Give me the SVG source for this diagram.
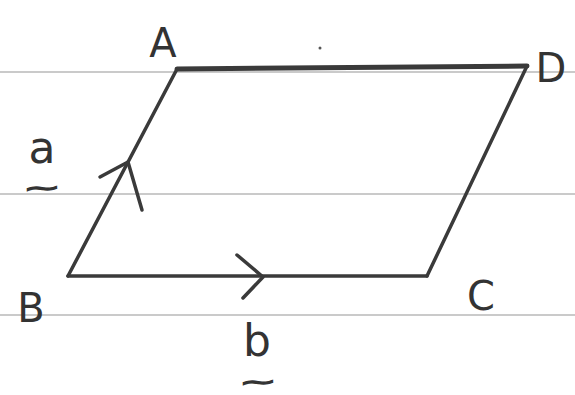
<svg xmlns="http://www.w3.org/2000/svg" width="575" height="395" viewBox="0 0 575 395">
<style>
.rule{stroke:#b8b8b8;stroke-width:1.5;fill:none}
.edge{stroke:#3a3a3a;stroke-width:3.5;fill:none;stroke-linecap:round;stroke-linejoin:round}
.lbl{font-family:"DejaVu Sans",sans-serif;fill:#333;text-anchor:middle}
.cap{font-size:40px}
.low{font-size:44px}
.til{font-size:22px;stroke:#333;stroke-width:1.4}
</style>
<rect width="575" height="395" fill="#fff"/>
<g id="paper">
<line class="rule" x1="0" y1="72" x2="575" y2="72"/>
<line class="rule" x1="0" y1="194" x2="575" y2="194"/>
<line class="rule" x1="0" y1="315" x2="575" y2="315"/>
<circle cx="320" cy="48" r="1.5" fill="#555"/>
</g>
<g id="connectors">
<path class="edge" d="M68,276 L177,69"/>
<path class="edge" d="M177,69 L527,66" style="stroke-width:5"/>
<path class="edge" d="M527,66 L427,276"/>
<path class="edge" d="M68,276 L427,276"/>
<path class="edge" d="M100,177 L128,162 L142,210"/>
<path class="edge" d="M237,255 L263,277 L243,298"/>
</g>
<g id="A"><text class="lbl cap" x="163" y="57">A</text></g>
<g id="D"><text class="lbl cap" x="551" y="82">D</text></g>
<g id="B"><text class="lbl cap" x="31" y="322">B</text></g>
<g id="C"><text class="lbl cap" x="481" y="310">C</text></g>
<g id="vec-a"><text class="lbl low" x="42" y="163">a</text><text class="lbl til" transform="translate(42,195) scale(2,1)">~</text></g>
<g id="vec-b"><text class="lbl low" x="257" y="356">b</text><text class="lbl til" transform="translate(258,388.5) scale(2,1)">~</text></g>
</svg>
